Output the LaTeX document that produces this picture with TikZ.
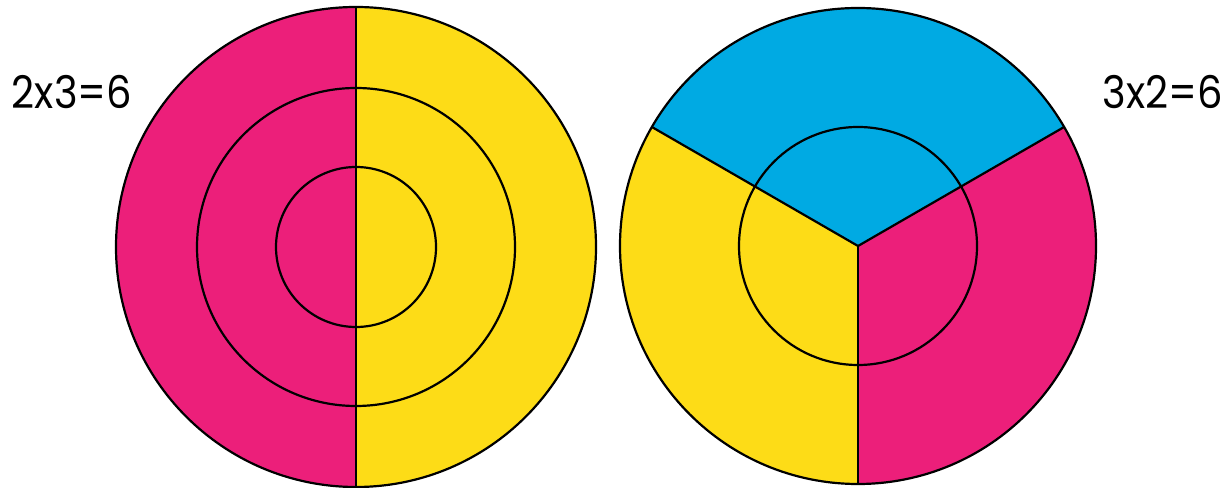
\documentclass[tikz,border=0pt]{standalone}
\usepackage{fontspec}
\setmainfont{Poppins}
\definecolor{pinkc}{HTML}{EC1F7A}
\definecolor{yellowc}{HTML}{FDDC17}
\definecolor{bluec}{HTML}{00AAE3}
\tikzset{
  ring/.style={draw=black,line width=2.2pt},
  divider/.style={draw=black,line width=2.2pt},
  eqlabel/.style={anchor=base,inner sep=0pt,xscale=0.89,font=\fontsize{45}{48}\selectfont}
}
\begin{document}
\begin{tikzpicture}[x=1pt,y=1pt]
\useasboundingbox (0,0) rectangle (1228,487);
% left disc
\coordinate (L) at (356,240);
\fill[pinkc] (L) ++(90:240pt) arc[start angle=90,end angle=270,radius=240pt] -- cycle;
\fill[yellowc] (L) ++(-90:240pt) arc[start angle=-90,end angle=90,radius=240pt] -- cycle;
\path (L) ++(0,240) coordinate (Lt) (L) ++(0,-240) coordinate (Lb);
\draw[divider] (Lt) -- (Lb);
\draw[ring] (L) circle[radius=240pt];
\draw[ring] (L) circle[radius=159pt];
\draw[ring] (L) circle[radius=80pt];
% right disc
\coordinate (R) at (858,241);
\fill[bluec] (R) -- ++(30:238pt) arc[start angle=30,end angle=150,radius=238pt] -- cycle;
\fill[yellowc] (R) -- ++(150:238pt) arc[start angle=150,end angle=270,radius=238pt] -- cycle;
\fill[pinkc] (R) -- ++(270:238pt) arc[start angle=270,end angle=390,radius=238pt] -- cycle;
\path (R) ++(30:238pt) coordinate (Ra) (R) ++(150:238pt) coordinate (Rb) (R) ++(270:238pt) coordinate (Rc);
\draw[divider] (R) -- (Ra);
\draw[divider] (R) -- (Rb);
\draw[divider] (R) -- (Rc);
\draw[ring] (R) circle[radius=238pt];
\draw[ring] (R) circle[radius=119pt];
% labels
\node[eqlabel] (eqleft) at (72,378) {2x3=6};
\node[eqlabel] (eqright) at (1163,378) {3x2=6};
\end{tikzpicture}
\end{document}
